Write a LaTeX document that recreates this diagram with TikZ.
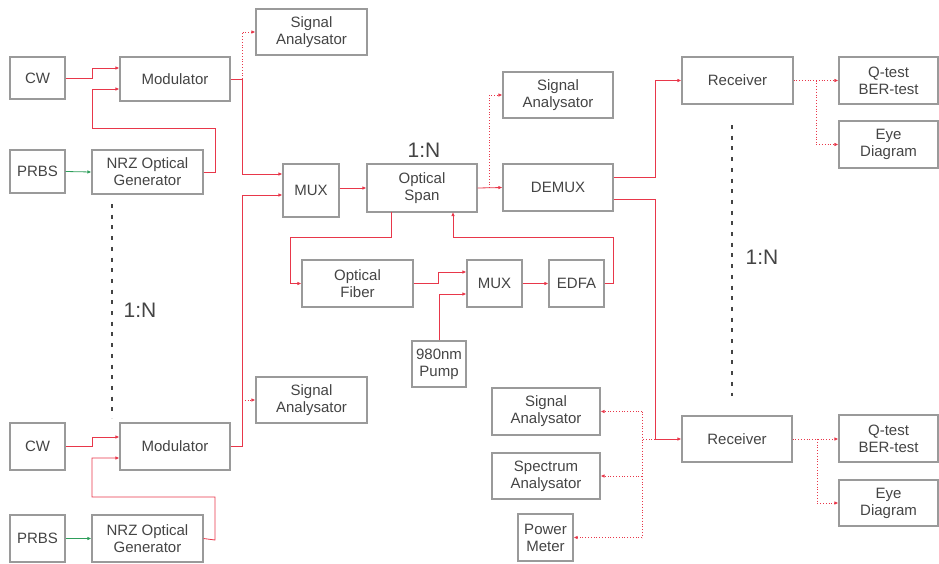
\documentclass[tikz,border=0pt]{standalone}
\usepackage{fontspec}
\setmainfont{Liberation Sans}
\usetikzlibrary{arrows.meta}
\definecolor{boxgray}{HTML}{9A9A9A}
\definecolor{txtgray}{HTML}{444444}
\definecolor{lred}{HTML}{E8374A}
\definecolor{lgreen}{HTML}{2E9E5B}
\tikzset{
  blk/.style={draw=boxgray, line width=1.1pt, text=txtgray, align=center,
    inner sep=0pt, font=\fontsize{15}{17}\selectfont},
  arr/.style={draw=lred, line width=0.8pt, -{Latex[length=4pt,width=3.5pt]}},
  ln/.style={draw=lred, line width=0.8pt},
  darr/.style={draw=lred, line width=0.8pt, dotted, -{Latex[length=4pt,width=3.5pt]}},
  dln/.style={draw=lred, line width=0.8pt, dotted},
  garr/.style={draw=lgreen, line width=0.8pt, -{Latex[length=4pt,width=3.5pt]}},
  vdots/.style={draw=txtgray, line width=2.8pt, dash pattern=on 4pt off 6.7pt},
  ratio/.style={text=txtgray, font=\fontsize{21}{23}\selectfont, inner sep=0pt}
}
\newcommand{\bx}[6]{\node[blk, minimum width=#4pt, minimum height=#5pt] (#1) at (#2,#3) {#6};}
\begin{document}
\begin{tikzpicture}[x=1pt,y=-1pt]
\useasboundingbox (0,0) rectangle (939,563);
% top branch
\bx{cw1}{37.5}{78}{55}{42}{CW}
\bx{mod1}{175}{79}{110}{44}{Modulator}
\bx{sa1}{311.5}{32}{111}{46}{Signal\\Analysator}
\bx{prbs1}{37.5}{171.5}{55}{43}{PRBS}
\bx{nrz1}{147.5}{172}{111}{44}{NRZ Optical\\Generator}
% bottom branch
\bx{sa3}{311.5}{400}{111}{46}{Signal\\Analysator}
\bx{cw2}{37.5}{446.5}{55}{47}{CW}
\bx{mod2}{175}{446.5}{110}{47}{Modulator}
\bx{prbs2}{37.5}{538.5}{55}{47}{PRBS}
\bx{nrz2}{147.5}{538.5}{111}{47}{NRZ Optical\\Generator}
% middle
\bx{mux1}{311}{190.5}{56}{53}{MUX}
\bx{span}{422}{188}{110}{48}{Optical\\Span}
\bx{sa2}{558}{95}{110}{46}{Signal\\Analysator}
\bx{demux}{558}{187.5}{110}{47}{DEMUX}
\bx{fiber}{357.5}{283.5}{111}{47}{Optical\\Fiber}
\bx{mux2}{494.5}{283.5}{55}{47}{MUX}
\bx{edfa}{576.5}{283.5}{55}{47}{EDFA}
\bx{pump}{439}{364}{54}{46}{980nm\\Pump}
% right
\bx{rx1}{737.5}{80.5}{111}{47}{Receiver}
\bx{q1}{888.5}{80.5}{99}{47}{Q-test\\BER-test}
\bx{eye1}{888.5}{144.5}{99}{47}{Eye\\Diagram}
\bx{rx2}{737}{439}{110}{46}{Receiver}
\bx{q2}{888.5}{438.5}{99}{47}{Q-test\\BER-test}
\bx{eye2}{888.5}{503}{99}{46}{Eye\\Diagram}
\bx{sa4}{546}{411.5}{108}{47}{Signal\\Analysator}
\bx{spec}{546}{476}{108}{46}{Spectrum\\Analysator}
\bx{pm}{545.5}{537.5}{55}{47}{Power\\Meter}
% labels
\node[ratio] (r1) at (424,150) {1:N};
\node[ratio] (r2) at (140,310) {1:N};
\node[ratio] (r3) at (762,257) {1:N};
% junction coordinates
\coordinate (j1) at (242,79);
\coordinate (j2) at (242,400);
\coordinate (j3) at (489,188);
\coordinate (j4) at (655,439);
\coordinate (j5) at (816,80.5);
\coordinate (j6) at (817,439);
% top branch connectors
\draw[arr] (cw1.east) -- (92,78) -- (92,68) -- (mod1.west |- 0,68);
\draw[arr] (nrz1.east) -- (215,172) -- (215,128) -- (92,128) -- (92,89) -- (mod1.west |- 0,89);
\draw[garr] (prbs1.east) -- (nrz1.west);
\draw[arr] (mod1.east) -- (j1) -- (242,174) -- (mux1.west |- 0,174);
\draw[darr] (j1) -- (242,32) -- (sa1.west);
% bottom branch connectors
\draw[arr] (cw2.east) -- (92,446.5) -- (92,437) -- (mod2.west |- 0,437);
\draw[arr] (nrz2.east) -- (215,540) -- (215,497) -- (92,497) -- (92,458) -- (mod2.west |- 0,458);
\draw[garr] (prbs2.east) -- (nrz2.west);
\draw[arr] (mod2.east) -- (242,446.5) -- (242,195) -- (mux1.west |- 0,195);
\draw[darr] (j2) -- (sa3.west |- j2);
% span
\draw[arr] (mux1.east |- span.west) -- (span.west);
\draw[arr] (span.east) -- (demux.west);
\draw[darr] (j3) -- (489,95) -- (sa2.west);
\draw[arr] (demux.east |- 0,177) -- (655,177) -- (655,80.5) -- (rx1.west);
\draw[arr] (demux.east |- 0,199) -- (655,199) -- (j4) -- (rx2.west);
% loop
\draw[arr] (391,212) -- (391,237) -- (290,237) -- (290,283.5) -- (fiber.west);
\draw[arr] (fiber.east) -- (438,283.5) -- (438,272) -- (mux2.west |- 0,272);
\draw[arr] (pump.north) -- (439,294) -- (mux2.west |- 0,294);
\draw[arr] (mux2.east) -- (edfa.west);
\draw[arr] (edfa.east) -- (613,283.5) -- (613,237) -- (453,237) -- (453,212);
% receiver outputs
\draw[darr] (rx1.east) -- (q1.west);
\draw[darr] (j5) -- (816,144.5) -- (eye1.west);
\draw[darr] (rx2.east) -- (q2.west |- rx2.east);
\draw[darr] (j6) -- (817,503) -- (eye2.west);
% measurement taps
\draw[dln] (j4) -- (642,439);
\draw[dln] (642,411.5) -- (642,537.5);
\draw[darr] (642,411.5) -- (sa4.east);
\draw[darr] (642,476) -- (spec.east);
\draw[darr] (642,537.5) -- (pm.east);
% 1:N dotted lines
\draw[vdots] (112,204) -- (112,418);
\draw[vdots] (732,125) -- (732,396);
\end{tikzpicture}
\end{document}
